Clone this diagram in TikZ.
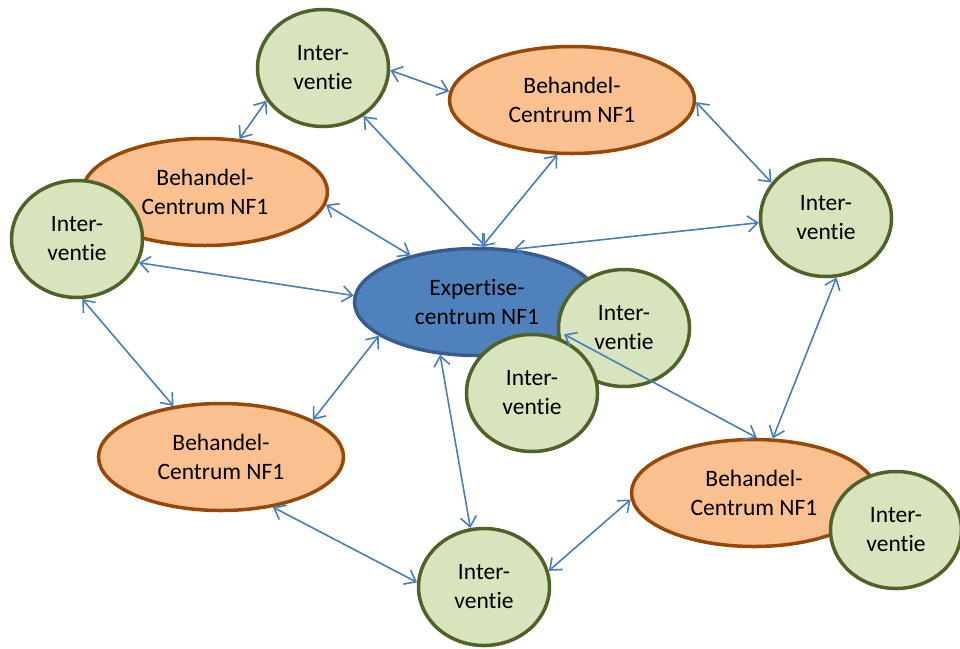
\documentclass[tikz,border=0pt]{standalone}
\usepackage{fontspec}
\setmainfont{Carlito}[Ligatures=NoCommon]
\usepackage{tikz}
\usetikzlibrary{arrows.meta, shapes.geometric}
\definecolor{linkblue}{RGB}{74,126,187}
\definecolor{intfill}{RGB}{215,228,189}
\definecolor{intline}{RGB}{79,98,40}
\definecolor{behfill}{RGB}{250,192,144}
\definecolor{behline}{RGB}{152,72,6}
\definecolor{expfill}{RGB}{79,129,189}
\definecolor{expline}{RGB}{56,93,138}
\tikzstyle{interv} = [ellipse, draw=intline, fill=intfill, line width=3.5pt, minimum width=131pt, minimum height=117pt, inner sep=0pt, align=center, font=\fontsize{23.5}{29}\selectfont]
\tikzstyle{behandel} = [ellipse, draw=behline, fill=behfill, line width=3.5pt, minimum width=245pt, minimum height=107pt, inner sep=0pt, align=center, font=\fontsize{23.5}{29}\selectfont]
\tikzstyle{expert} = [behandel, draw=expline, fill=expfill]
\tikzstyle{link} = [linkblue, line width=1.6pt, {Straight Barb[length=10pt,width=16pt]}-{Straight Barb[length=10pt,width=16pt]}]

\begin{document}
\begin{tikzpicture}[x=1pt, y=-1pt]
        \useasboundingbox [fill=white] (0,0) rectangle (960,648);
        \node (i1) [interv] at (323,68) {Inter-\\ventie};
        \node (b1) [behandel] at (572,100) {Behandel-\\Centrum NF1};
        \node (b2) [behandel] at (205,192) {Behandel-\\Centrum NF1};
        \node (i2) [interv] at (77,239) {Inter-\\ventie};
        \node (i3) [interv] at (826,218) {Inter-\\ventie};
        \node (e) [expert] at (477,302) {Expertise-\\centrum NF1};
        \node (i4) [interv] at (624,328) {Inter-\\ventie};
        \node (i5) [interv] at (532,393) {Inter-\\ventie};
        \node (b3) [behandel] at (221,457) {Behandel-\\Centrum NF1};
        \node (b4) [behandel] at (754,493) {Behandel-\\Centrum NF1};
        \node (i6) [interv] at (896,530) {Inter-\\ventie};
        \node (i7) [interv] at (484,587) {Inter-\\ventie};
        \draw [link] (i1.210) -- (b2.57);
        \draw [link] (i1.-2) -- (b1.176);
        \draw [link] (i1.-50) -- (e.81);
        \draw [link] (b2.-6) -- (e.145);
        \draw [link] (i2.-21) -- (e.177);
        \draw [link] (b1.-105) -- (e.85);
        \draw [link] (b1.-1) -- (i3.147);
        \draw [link] (i3.-176) -- (e.55);
        \draw [link] (i2.-85) -- (b3.133);
        \draw [link] (e.199) -- (b3.22);
        \draw [link] (e.-125) -- (i7.103);
        \draw [link] (b3.-44) -- (i7.176);
        \draw [link] (i7.14) -- (b4.183);
        \draw [link] (b4.71) -- (i3.-80);
        \draw [link, shorten <=-8pt] (e.-21) -- (b4.87);
    \end{tikzpicture}
\end{document}
